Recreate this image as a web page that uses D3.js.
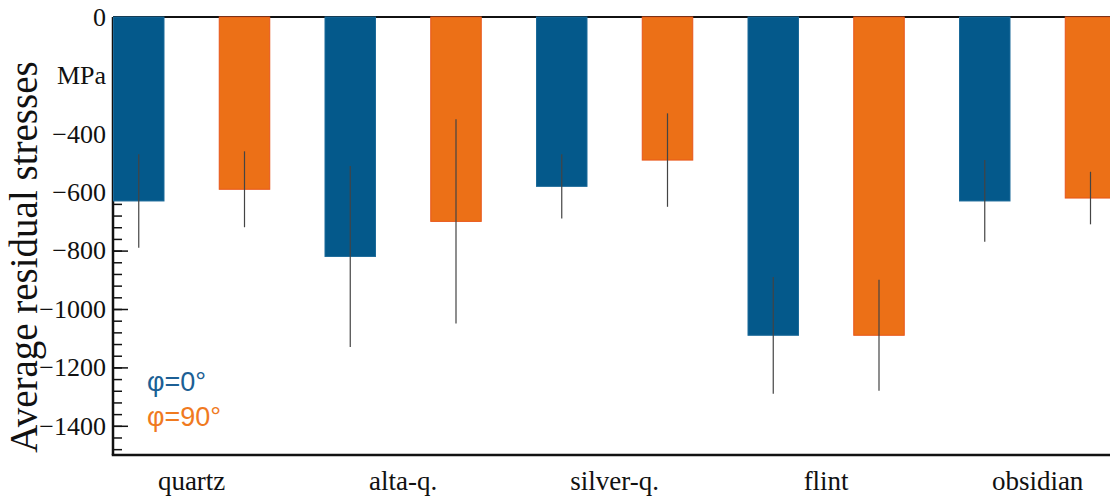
<!DOCTYPE html>
<html>
<head>
<meta charset="utf-8">
<script src="https://cdn.jsdelivr.net/npm/d3@7"></script>
<style>
  html, body { margin: 0; padding: 0; background: #fff; }
  svg { display: block; }
</style>
</head>
<body>
<svg id="chart" width="1110" height="497"></svg>
<script>
// Residual stress per material, for the two measuring directions
const categories = ["quartz", "alta-q.", "silver-q.", "flint", "obsidian"];
const seriesNames = ["φ=0°", "φ=90°"];
const stress0 = [-630, -820, -580, -1090, -630];
const stress90 = [-590, -700, -490, -1090, -620];
const err0 = [160, 310, 110, 200, 140];
const err90 = [130, 350, 160, 190, 90];
const majorTicks = [0, -200, -400, -600, -800, -1000, -1200, -1400];

const colors = ["#04598b", "#ec7017"];
const edgeColors = ["#1b6a99", "#e8561a"];
const serif = "'Liberation Serif', 'Times New Roman', serif";

const svg = d3.select("#chart");
const plotLeft = 113, plotTop = 17, plotBottom = 455, plotRight = 1110;
const groupStep = 211.5;

const y = d3.scaleLinear().domain([0, -1500]).range([plotTop, plotBottom]);
const x0 = d3.scaleBand().domain(categories)
  .range([plotLeft, plotLeft + groupStep * categories.length]).padding(0);
const x1 = d3.scaleBand().domain(seriesNames)
  .range([0, x0.bandwidth()])
  .paddingInner(0.513).paddingOuter(0.2565).align(0);

const rows = categories.map((c, i) => ({
  category: c,
  values: [
    { name: seriesNames[0], value: stress0[i], err: err0[i], k: 0 },
    { name: seriesNames[1], value: stress90[i], err: err90[i], k: 1 }
  ]
}));

// Minor ticks every 40 MPa, pointing into the plot
const minorVals = d3.range(0, -1500, -40);
const minorAxis = d3.axisLeft(y).tickValues(minorVals).tickSize(-9).tickFormat("");
svg.append("g").attr("transform", `translate(${plotLeft},0)`).call(minorAxis)
  .call(g => g.select(".domain").remove())
  .call(g => g.selectAll("line").attr("stroke", "#111").attr("stroke-width", 1.5));

// Major ticks with labels; the -200 slot carries the unit
const majorAxis = d3.axisLeft(y).tickValues(majorTicks).tickSize(-15).tickPadding(7)
  .tickFormat(d => d === -200 ? "MPa" : d3.format("d")(d));
svg.append("g").attr("transform", `translate(${plotLeft},0)`).call(majorAxis)
  .call(g => g.select(".domain").remove())
  .call(g => g.selectAll("line").attr("stroke", "#111").attr("stroke-width", 1.5))
  .call(g => g.selectAll("text")
    .style("font-family", serif).style("font-size", "26px").attr("fill", "#111"));

// Spines: left, bottom and the zero line
svg.append("line").attr("x1", plotLeft).attr("x2", plotLeft).attr("y1", y(0)).attr("y2", y(-1500))
  .attr("stroke", "#111").attr("stroke-width", 2.5);
svg.append("line").attr("x1", plotLeft - 1.25).attr("x2", plotRight).attr("y1", y(-1500)).attr("y2", y(-1500))
  .attr("stroke", "#111").attr("stroke-width", 2.5);
svg.append("line").attr("x1", plotLeft).attr("x2", plotRight).attr("y1", y(0)).attr("y2", y(0))
  .attr("stroke", "#111").attr("stroke-width", 2);

// Bars hanging from zero
const groups = svg.append("g").selectAll("g").data(rows).join("g")
  .attr("transform", d => `translate(${x0(d.category)},0)`);

groups.selectAll("rect").data(d => d.values).join("rect")
  .attr("x", d => x1(d.name) + 0.5)
  .attr("y", y(0))
  .attr("width", x1.bandwidth() - 1)
  .attr("height", d => y(d.value) - y(0))
  .attr("fill", d => colors[d.k])
  .attr("stroke", d => edgeColors[d.k])
  .attr("stroke-width", 1);

// Error bars (plain vertical lines)
groups.selectAll("line.err").data(d => d.values).join("line")
  .attr("class", "err")
  .attr("x1", d => x1(d.name) + x1.bandwidth() / 2)
  .attr("x2", d => x1(d.name) + x1.bandwidth() / 2)
  .attr("y1", d => y(d.value + d.err))
  .attr("y2", d => y(d.value - d.err))
  .attr("stroke", "#444")
  .attr("stroke-width", 1.2);

// Category labels, centred under each pair of bars
const pairCentre = (x1(seriesNames[0]) + x1(seriesNames[1]) + x1.bandwidth()) / 2;
svg.append("g").selectAll("text").data(categories).join("text")
  .attr("x", d => x0(d) + pairCentre)
  .attr("y", 490)
  .attr("text-anchor", "middle")
  .style("font-family", serif)
  .style("font-size", "27px")
  .attr("fill", "#111")
  .text(d => d);

// Y axis title
svg.append("text")
  .attr("transform", `translate(37,257) rotate(-90)`)
  .attr("text-anchor", "middle")
  .style("font-family", serif)
  .style("font-size", "39px")
  .attr("fill", "#111")
  .text("Average residual stresses");

// Legend
const legendColors = ["#1c5f95", "#f07a1f"];
svg.append("g").selectAll("text").data(seriesNames).join("text")
  .attr("x", 147)
  .attr("y", (d, i) => 391 + i * 35)
  .style("font-family", "'Liberation Sans', Arial, sans-serif")
  .style("font-size", "27px")
  .attr("fill", (d, i) => legendColors[i])
  .text(d => d);
</script>
</body>
</html>
